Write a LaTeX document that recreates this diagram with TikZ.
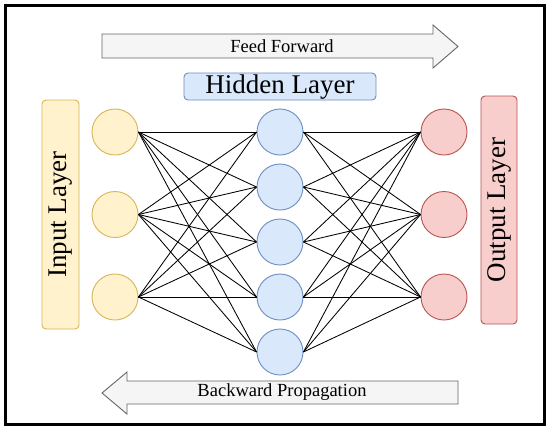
\documentclass[tikz,border=0pt]{standalone}
\usepackage{fontspec}
\setmainfont{Liberation Serif}
\definecolor{inFill}{HTML}{FFF2CC}
\definecolor{inLine}{HTML}{D6B656}
\definecolor{hidFill}{HTML}{DAE8FC}
\definecolor{hidLine}{HTML}{6C8EBF}
\definecolor{outFill}{HTML}{F8CECC}
\definecolor{outLine}{HTML}{B85450}
\definecolor{arFill}{HTML}{F5F5F5}
\definecolor{arLine}{HTML}{666666}
\tikzset{
  neuron/.style={circle, minimum size=46pt, inner sep=0pt, line width=0.9pt},
  inneuron/.style={neuron, fill=inFill, draw=inLine},
  hidneuron/.style={neuron, fill=hidFill, draw=hidLine},
  outneuron/.style={neuron, fill=outFill, draw=outLine},
  layerbox/.style={rounded corners=4pt, line width=0.9pt},
  bigarrow/.style={fill=arFill, draw=arLine, line width=0.9pt},
  link/.style={black, line width=0.85pt},
  lbl/.style={font=\fontsize{27}{30}\selectfont, inner sep=0pt},
  arlbl/.style={font=\fontsize{18.5}{21}\selectfont, inner sep=0pt}
}
\begin{document}
\begin{tikzpicture}[x=1pt,y=-1pt]
\useasboundingbox (0,0) rectangle (550,432);
\fill[white] (0,0) rectangle (550,432);
\draw[line width=3pt] (5,5) rectangle (544,424);
% arrows
\draw[bigarrow] (102,34) -- (433,34) -- (433,25) -- (458,46.5) -- (433,68) -- (433,58) -- (102,58) -- cycle;
\node[arlbl] (ff) at (282,46.5) {Feed Forward};
\draw[bigarrow] (458,381) -- (127,381) -- (127,372) -- (102,393) -- (127,414) -- (127,404) -- (458,404) -- cycle;
\node[arlbl] (bp) at (282,392.5) {Backward Propagation};
% layer labels
\draw[layerbox, fill=hidFill, draw=hidLine] (184,73) rectangle (376,100);
\node[lbl] (hl) at (280,87) {Hidden Layer};
\draw[layerbox, fill=inFill, draw=inLine] (42,100) rectangle (79,329);
\node[lbl, rotate=90] (il) at (60.5,214.5) {Input Layer};
\draw[layerbox, fill=outFill, draw=outLine] (481,96) rectangle (517,324);
\node[lbl, rotate=90] (ol) at (499,210) {Output Layer};
% neurons
\node[inneuron] (i1) at (115,132) {};
\node[inneuron] (i2) at (115,214.5) {};
\node[inneuron] (i3) at (115,297) {};
\foreach \k/\y in {1/132,2/187,3/242,4/297,5/352}
  \node[hidneuron] (h\k) at (280,\y) {};
\node[outneuron] (o1) at (444,132) {};
\node[outneuron] (o2) at (444,214.5) {};
\node[outneuron] (o3) at (444,297) {};
% links
\foreach \a in {1,2,3}
  \foreach \b in {1,...,5}
    \draw[link] (i\a.east) -- (h\b.west);
\foreach \b in {1,...,5}
  \foreach \c in {1,2,3}
    \draw[link] (h\b.east) -- (o\c.west);
\end{tikzpicture}
\end{document}
